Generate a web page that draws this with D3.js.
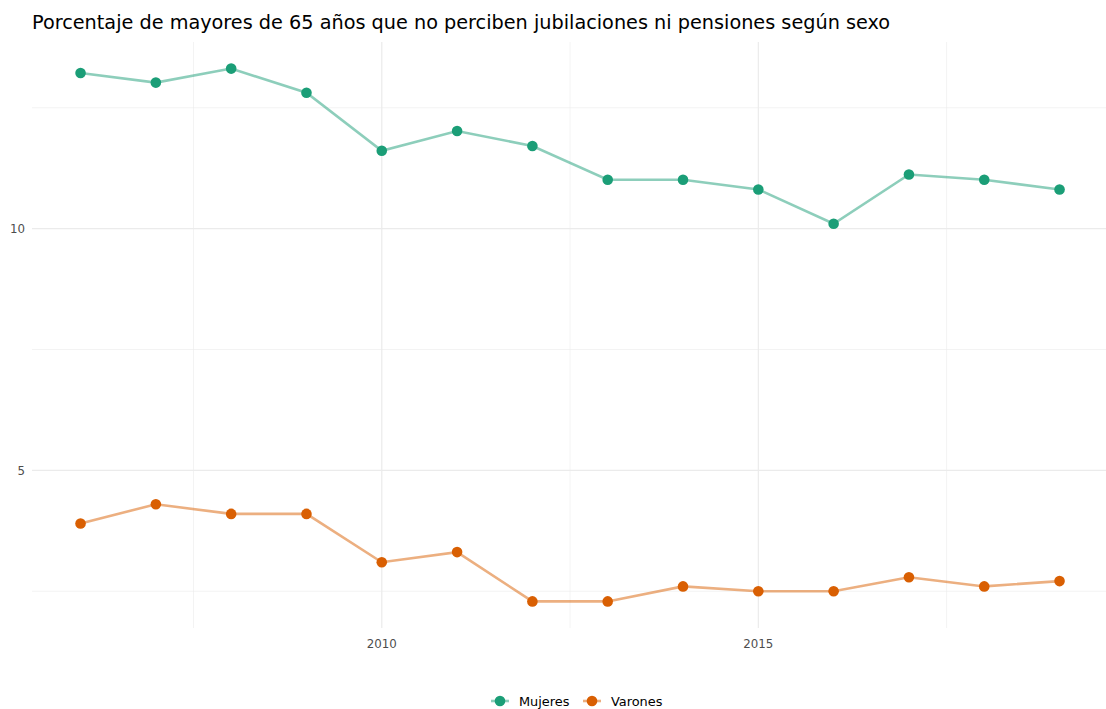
<!DOCTYPE html>
<html>
<head>
<meta charset="utf-8">
<script src="https://cdn.jsdelivr.net/npm/d3@7"></script>
<style>
  body { margin: 0; background: #fff; }
  svg { font-family: "DejaVu Sans", sans-serif; }
</style>
</head>
<body>
<svg id="chart" width="1106" height="709"></svg>
<script>
// data
const years = [2006, 2007, 2008, 2009, 2010, 2011, 2012, 2013, 2014, 2015, 2016, 2017, 2018, 2019]
const mujeres = [13.22, 13.02, 13.31, 12.81, 11.61, 12.02, 11.71, 11.01, 11.01, 10.81, 10.1, 11.12, 11.01, 10.81]
const varones = [3.9, 4.3, 4.1, 4.1, 3.1, 3.31, 2.29, 2.29, 2.6, 2.5, 2.5, 2.79, 2.6, 2.71]
const seriesNames = ["Mujeres", "Varones"]
const colors = ["#1B9E77", "#D95F02"]
const xTicks = [2010, 2015]
const xMinor = [2007.5, 2012.5, 2017.5]
const yTicks = [5, 10]
const yMinor = [2.5, 7.5, 12.5]

const svg = d3.select("#chart")

// panel
const panel = { left: 32, right: 1106, top: 42, bottom: 628 }

const x = d3.scaleLinear().domain([2005.35, 2019.65]).range([31.6, 1108.5])
const y = d3.scaleLinear().domain([1.74, 13.86]).range([628, 42])

const grid = svg.append("g")
grid.selectAll(".ymin").data(yMinor).join("line")
    .attr("x1", panel.left).attr("x2", panel.right)
    .attr("y1", d => y(d)).attr("y2", d => y(d))
    .attr("stroke", "#EBEBEB").attr("stroke-width", 0.6)
grid.selectAll(".xmin").data(xMinor).join("line")
    .attr("y1", panel.top).attr("y2", panel.bottom)
    .attr("x1", d => x(d)).attr("x2", d => x(d))
    .attr("stroke", "#EBEBEB").attr("stroke-width", 0.6)
grid.selectAll(".ymaj").data(yTicks).join("line")
    .attr("x1", panel.left).attr("x2", panel.right)
    .attr("y1", d => y(d)).attr("y2", d => y(d))
    .attr("stroke", "#EBEBEB").attr("stroke-width", 1.2)
grid.selectAll(".xmaj").data(xTicks).join("line")
    .attr("y1", panel.top).attr("y2", panel.bottom)
    .attr("x1", d => x(d)).attr("x2", d => x(d))
    .attr("stroke", "#EBEBEB").attr("stroke-width", 1.2)

// axis labels
svg.append("g").selectAll("text").data(yTicks).join("text")
    .attr("x", 25).attr("y", d => y(d))
    .attr("dy", "0.35em")
    .attr("text-anchor", "end")
    .attr("font-size", 11.8)
    .attr("fill", "#4D4D4D")
    .text(d => d)
svg.append("g").selectAll("text").data(xTicks).join("text")
    .attr("x", d => x(d)).attr("y", 647.5)
    .attr("text-anchor", "middle")
    .attr("font-size", 11.8)
    .attr("fill", "#4D4D4D")
    .text(d => d)

// series
const series = [mujeres, varones]
const line = d3.line().x((d, i) => x(years[i])).y(d => y(d))
series.forEach((vals, s) => {
    svg.append("path")
        .attr("d", line(vals))
        .attr("fill", "none")
        .attr("stroke", colors[s])
        .attr("stroke-opacity", 0.5)
        .attr("stroke-width", 2.6)
    svg.append("g").selectAll("circle").data(vals).join("circle")
        .attr("cx", (d, i) => x(years[i]))
        .attr("cy", d => y(d))
        .attr("r", 5.3)
        .attr("fill", colors[s])
})

// title
svg.append("text")
    .attr("x", 32).attr("y", 29)
    .attr("font-size", 19.25)
    .attr("fill", "#000")
    .text("Porcentaje de mayores de 65 años que no perciben jubilaciones ni pensiones según sexo")

// legend
const legend = svg.append("g")
const legX = [500, 592]
seriesNames.forEach((name, s) => {
    const g = legend.append("g").attr("transform", `translate(${legX[s]},701)`)
    g.append("line").attr("x1", -9).attr("x2", 9)
        .attr("stroke", colors[s]).attr("stroke-opacity", 0.5).attr("stroke-width", 2.6)
    g.append("circle").attr("r", 5.3).attr("fill", colors[s])
    g.append("text").attr("x", 19).attr("dy", "0.35em")
        .attr("font-size", 12.9).attr("fill", "#000")
        .text(name)
})
</script>
</body>
</html>
